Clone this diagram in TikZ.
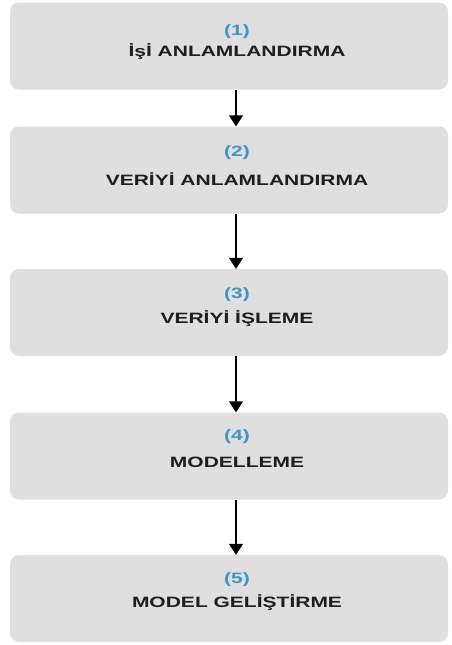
\documentclass[tikz,border=0pt]{standalone}
\usepackage{fontspec}
\setmainfont{Liberation Sans}[FakeStretch=1.4]
\usetikzlibrary{arrows.meta}
\definecolor{boxfill}{RGB}{223,223,223}
\definecolor{numblue}{RGB}{60,150,195}
\definecolor{labtext}{RGB}{30,30,30}
\tikzset{
  stagebox/.style={draw=none, fill=boxfill, rounded corners=9pt, minimum width=438pt, minimum height=87pt, inner sep=0pt},
  numtext/.style={text=numblue, font=\fontsize{15}{18}\selectfont\bfseries, inner sep=0pt},
  labeltext/.style={text=labtext, font=\fontsize{15}{18}\selectfont\bfseries, inner sep=0pt},
  flowarrow/.style={line width=1.5pt, -{Triangle[width=14pt,length=11pt]}}
}
\begin{document}
\begin{tikzpicture}[x=1pt,y=1pt]
\useasboundingbox (0,0) rectangle (452,-645);
\node[stagebox] (b1) at (229,-46) {};
\node[stagebox] (b2) at (229,-170) {};
\node[stagebox] (b3) at (229,-312.5) {};
\node[stagebox] (b4) at (229,-456) {};
\node[stagebox] (b5) at (229,-598.5) {};
\node[numtext] (n1) at (237,-32) {(1)};
\node[labeltext] (l1) at (237,-52) {İşİ ANLAMLANDIRMA};
\node[numtext] (n2) at (237,-153) {(2)};
\node[labeltext] (l2) at (237,-179) {VERİYİ ANLAMLANDIRMA};
\node[numtext] (n3) at (237,-295) {(3)};
\node[labeltext] (l3) at (237,-319) {VERİYİ İŞLEME};
\node[numtext] (n4) at (237,-437) {(4)};
\node[labeltext] (l4) at (237,-462) {MODELLEME};
\node[numtext] (n5) at (237,-580) {(5)};
\node[labeltext] (l5) at (237,-603) {MODEL GELİŞTİRME};
\draw[flowarrow] (b1.south -| 236,0) -- (b2.north -| 236,0);
\draw[flowarrow] (b2.south -| 236,0) -- (b3.north -| 236,0);
\draw[flowarrow] (b3.south -| 236,0) -- (b4.north -| 236,0);
\draw[flowarrow] (b4.south -| 236,0) -- (b5.north -| 236,0);
\end{tikzpicture}
\end{document}
